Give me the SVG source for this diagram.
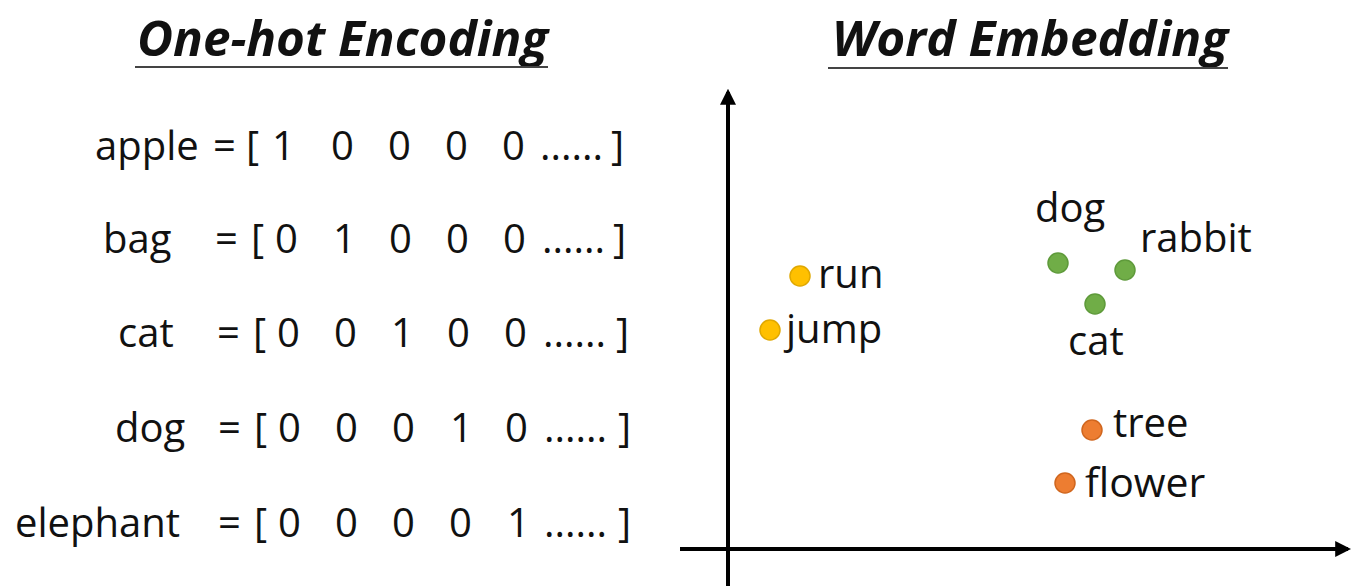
<svg xmlns="http://www.w3.org/2000/svg" width="1360" height="586" viewBox="0 0 1360 586">
<style>
.t{font-family:"Open Sans","Liberation Sans",sans-serif;font-size:40px;fill:#111}
.h{font-family:"Open Sans","Liberation Sans",sans-serif;font-size:48px;font-weight:bold;font-style:italic;fill:#111}
.ax{stroke:#000;stroke-width:4;fill:none}
.ul{stroke:#444;stroke-width:2}
.y{fill:#FFC000;stroke:#E0A800;stroke-width:1.5}
.g{fill:#70AD47;stroke:#5E9A3A;stroke-width:1.5}
.o{fill:#ED7D31;stroke:#D0661E;stroke-width:1.5}
</style>
<defs>
<marker id="ah" viewBox="0 0 10 10" refX="8" refY="5" markerWidth="4" markerHeight="4" orient="auto" markerUnits="strokeWidth">
<path d="M0,0 L10,5 L0,10 z" fill="#000"/>
</marker>
</defs>
<rect width="1360" height="586" fill="#fff"/>
<g id="title-onehot">
<text class="h" x="137" y="56" textLength="411" lengthAdjust="spacingAndGlyphs">One-hot Encoding</text>
<line class="ul" x1="135" y1="67" x2="548" y2="67"/>
</g>
<g id="title-embedding">
<text class="h" x="832" y="56" textLength="396" lengthAdjust="spacingAndGlyphs">Word Embedding</text>
<line class="ul" x1="828" y1="68" x2="1228" y2="68"/>
</g>
<g id="row-apple">
<text class="t" x="95" y="160">apple</text>
<text class="t" x="213" y="160">=</text>
<text class="t" x="246" y="160">[</text>
<text class="t" x="272" y="160">1</text>
<text class="t" x="331" y="160">0</text>
<text class="t" x="388" y="160">0</text>
<text class="t" x="445" y="160">0</text>
<text class="t" x="502" y="160">0</text>
<text class="t" x="540" y="160">......</text>
<text class="t" x="611" y="160">]</text>
</g>
<g id="row-bag">
<text class="t" x="103" y="253">bag</text>
<text class="t" x="215" y="253">=</text>
<text class="t" x="251" y="253">[</text>
<text class="t" x="275" y="253">0</text>
<text class="t" x="333" y="253">1</text>
<text class="t" x="389" y="253">0</text>
<text class="t" x="446" y="253">0</text>
<text class="t" x="503" y="253">0</text>
<text class="t" x="542" y="253">......</text>
<text class="t" x="613" y="253">]</text>
</g>
<g id="row-cat">
<text class="t" x="118" y="347">cat</text>
<text class="t" x="217" y="347">=</text>
<text class="t" x="253" y="347">[</text>
<text class="t" x="277" y="347">0</text>
<text class="t" x="334" y="347">0</text>
<text class="t" x="391" y="347">1</text>
<text class="t" x="447" y="347">0</text>
<text class="t" x="504" y="347">0</text>
<text class="t" x="543" y="347">......</text>
<text class="t" x="616" y="347">]</text>
</g>
<g id="row-dog">
<text class="t" x="115" y="442">dog</text>
<text class="t" x="218" y="442">=</text>
<text class="t" x="254" y="442">[</text>
<text class="t" x="278" y="442">0</text>
<text class="t" x="335" y="442">0</text>
<text class="t" x="392" y="442">0</text>
<text class="t" x="450" y="442">1</text>
<text class="t" x="505" y="442">0</text>
<text class="t" x="544" y="442">......</text>
<text class="t" x="618" y="442">]</text>
</g>
<g id="row-elephant">
<text class="t" x="15" y="537">elephant</text>
<text class="t" x="218" y="537">=</text>
<text class="t" x="254" y="537">[</text>
<text class="t" x="278" y="537">0</text>
<text class="t" x="335" y="537">0</text>
<text class="t" x="392" y="537">0</text>
<text class="t" x="449" y="537">0</text>
<text class="t" x="507" y="537">1</text>
<text class="t" x="544" y="537">......</text>
<text class="t" x="618" y="537">]</text>
</g>
<g id="axes">
<line class="ax" x1="728" y1="586" x2="728" y2="92" marker-end="url(#ah)"/>
<line class="ax" x1="680" y1="549" x2="1348" y2="549" marker-end="url(#ah)"/>
</g>
<g id="pt-run"><circle class="y" cx="800" cy="276" r="10"/><text class="t" x="818" y="288">run</text></g>
<g id="pt-jump"><circle class="y" cx="770" cy="330" r="10"/><text class="t" x="786" y="343">jump</text></g>
<g id="pt-dog"><circle class="g" cx="1058" cy="263" r="10"/><text class="t" x="1035" y="222">dog</text></g>
<g id="pt-rabbit"><circle class="g" cx="1125" cy="270" r="10"/><text class="t" x="1140" y="252">rabbit</text></g>
<g id="pt-cat"><circle class="g" cx="1095" cy="304" r="10"/><text class="t" x="1068" y="355">cat</text></g>
<g id="pt-tree"><circle class="o" cx="1092" cy="430" r="10"/><text class="t" x="1113" y="437">tree</text></g>
<g id="pt-flower"><circle class="o" cx="1065" cy="483" r="10"/><text class="t" x="1085" y="497" style="font-size:41px">flower</text></g>
</svg>
